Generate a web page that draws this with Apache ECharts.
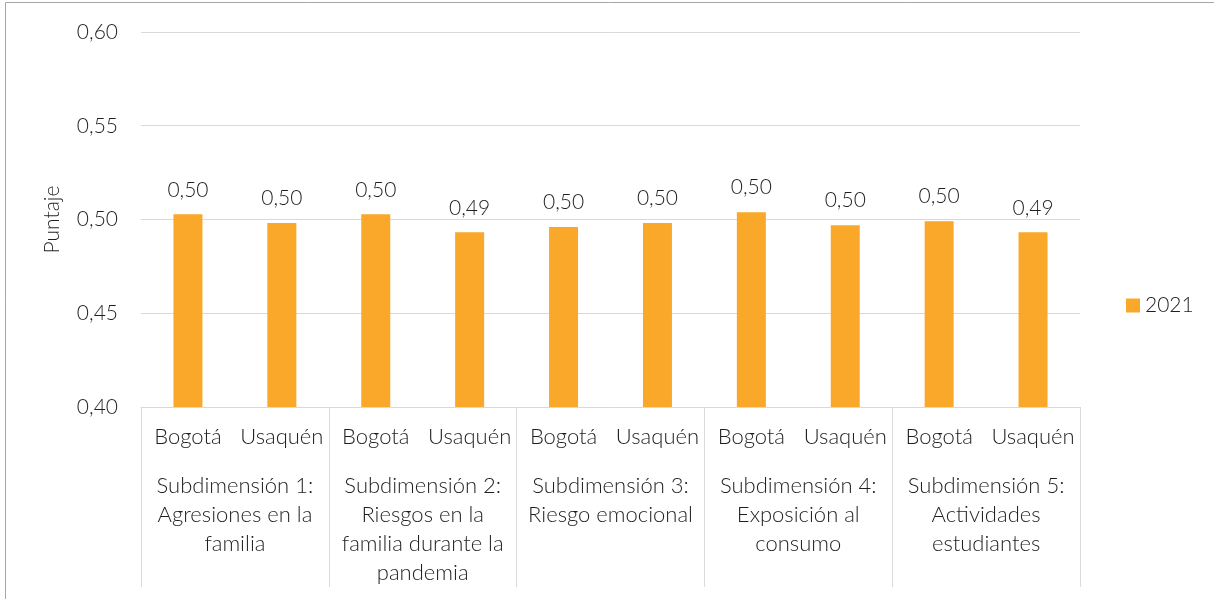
<!DOCTYPE html>
<html><head><meta charset="utf-8">
<script src="https://cdn.jsdelivr.net/npm/echarts@6/dist/echarts.min.js"></script>
<style>html,body{margin:0;padding:0;background:#fff}#c{width:1214px;height:599px}</style>
</head><body><div id="c"></div>
<script>
const subCategories = ['Bogotá','Usaquén','Bogotá','Usaquén','Bogotá','Usaquén','Bogotá','Usaquén','Bogotá','Usaquén'];
const groupCategories = [
  'Subdimensión 1:\nAgresiones en la\nfamilia',
  'Subdimensión 2:\nRiesgos en la\nfamilia durante la\npandemia',
  'Subdimensión 3:\nRiesgo emocional',
  'Subdimensión 4:\nExposición al\nconsumo',
  'Subdimensión 5:\nActividades\nestudiantes'
];
const values2021 = [0.5028, 0.4981, 0.5028, 0.4932, 0.4960, 0.4981, 0.5039, 0.4970, 0.4991, 0.4932];
const yTicks = [0.40, 0.45, 0.50, 0.55, 0.60];
const seriesName = '2021';

const font = 'Lato, "Open Sans", sans-serif';
const txt = '#1f1f1f';
const fsCat = 22;
const fsNum = 21;
const fw = 300;
const chart = echarts.init(document.getElementById('c'));
chart.setOption({
  animation: false,
  textStyle: {fontFamily: font},
  grid: {left: 141, right: 134, top: 32, bottom: 192, containLabel: false},
  legend: {
    data: [seriesName], orient: 'vertical', left: 1121, top: 290,
    itemWidth: 14, itemHeight: 14, itemGap: 6,
    textStyle: {fontSize: fsNum, fontWeight: fw, color: txt, fontFamily: font}, icon: 'rect'
  },
  graphic: [
    {type: 'line', shape: {x1: 5.5, y1: 2.5, x2: 1214, y2: 2.5}, style: {stroke: '#a6a6a6', lineWidth: 1}},
    {type: 'line', shape: {x1: 5.5, y1: 2.5, x2: 5.5, y2: 599}, style: {stroke: '#a6a6a6', lineWidth: 1}}
  ],
  xAxis: [
    {
      type: 'category', data: subCategories, position: 'bottom',
      axisLine: {show: true, lineStyle: {color: '#d9d9d9', width: 1}},
      axisTick: {show: false},
      axisLabel: {fontSize: fsCat, fontWeight: fw, color: txt, margin: 19, interval: 0, fontFamily: font}
    },
    {
      type: 'category', data: groupCategories, position: 'bottom',
      axisLine: {show: false},
      axisTick: {show: true, length: 180, lineStyle: {color: '#d9d9d9', width: 1}},
      axisLabel: {fontSize: fsCat, fontWeight: fw, color: txt, margin: 64, lineHeight: 29, interval: 0, fontFamily: font, align: 'center'}
    }
  ],
  yAxis: {
    type: 'value', min: yTicks[0], max: yTicks[yTicks.length - 1], interval: 0.05,
    name: 'Puntaje', nameLocation: 'middle', nameGap: 78, nameRotate: 90,
    nameTextStyle: {fontSize: 21, fontWeight: fw, color: txt, fontFamily: font},
    axisLine: {show: false}, axisTick: {show: false},
    axisLabel: {fontSize: fsNum, fontWeight: fw, color: txt, margin: 23, fontFamily: font,
      formatter: v => v.toFixed(2).replace('.', ',')},
    splitLine: {lineStyle: {color: '#d9d9d9', width: 1}}
  },
  series: [{
    name: seriesName, type: 'bar', data: values2021, xAxisIndex: 0,
    barWidth: 29,
    itemStyle: {color: '#f9a82a'},
    label: {show: true, position: 'top', distance: 14, fontSize: fsNum, fontWeight: fw, color: txt, fontFamily: font,
      formatter: p => p.value.toFixed(2).replace('.', ',')}
  }]
});
</script></body></html>
